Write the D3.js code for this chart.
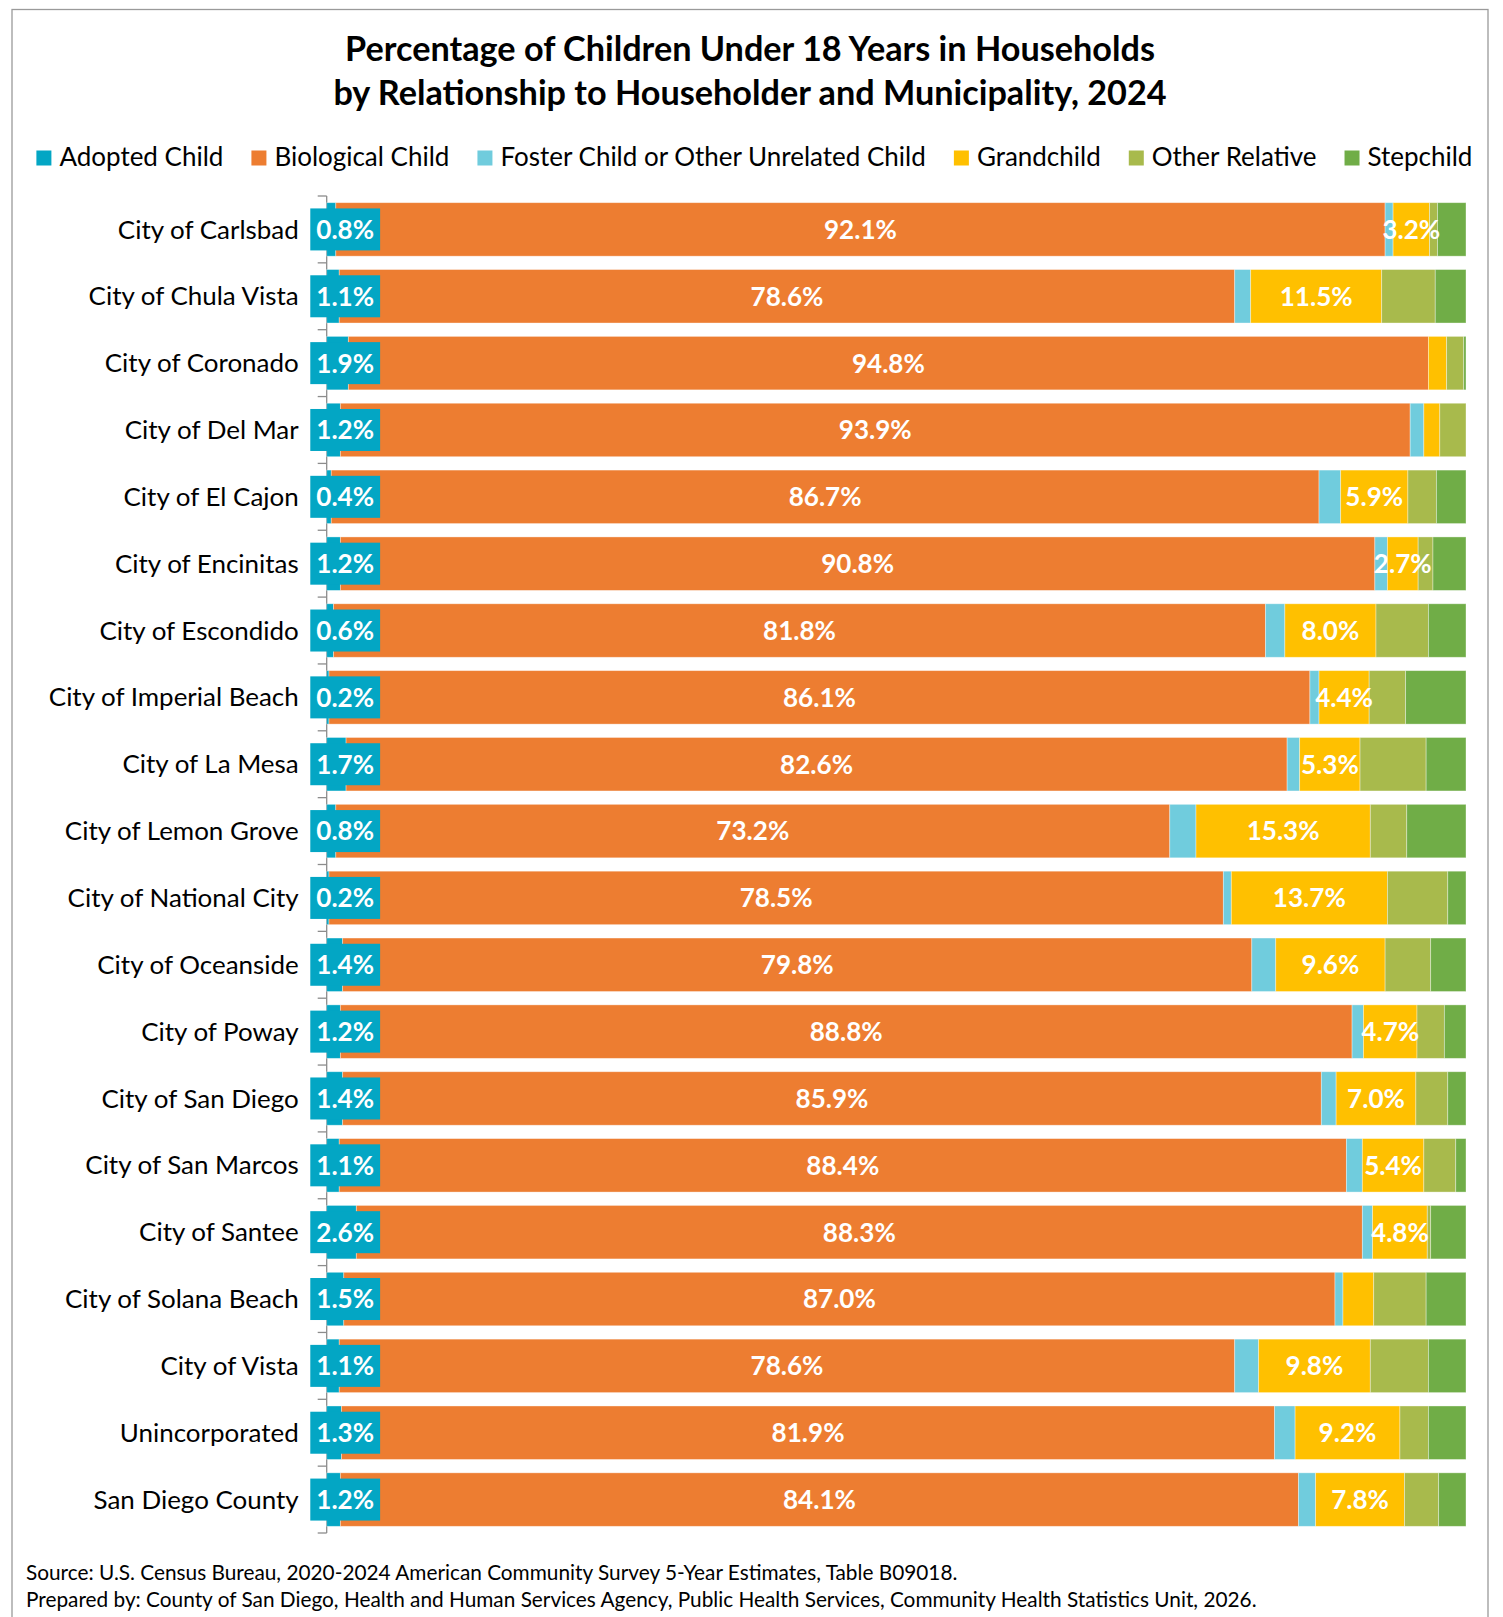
<!DOCTYPE html>
<html>
<head>
<meta charset="utf-8">
<script src="https://cdn.jsdelivr.net/npm/d3@7"></script>
<style>
  body { margin: 0; background: #fff; }
  svg { display: block; }
  text { font-family: Lato, "Open Sans", "Noto Sans", sans-serif; }
</style>
</head>
<body>
<svg id="chart" width="1503" height="1617"></svg>
<script>
// Share (%) of children under 18 in households, by relationship to householder
const municipalities = [
  "City of Carlsbad", "City of Chula Vista", "City of Coronado", "City of Del Mar",
  "City of El Cajon", "City of Encinitas", "City of Escondido", "City of Imperial Beach",
  "City of La Mesa", "City of Lemon Grove", "City of National City", "City of Oceanside",
  "City of Poway", "City of San Diego", "City of San Marcos", "City of Santee",
  "City of Solana Beach", "City of Vista", "Unincorporated", "San Diego County"
];
const adopted       = [0.8, 1.1, 1.9, 1.2, 0.4, 1.2, 0.6, 0.2, 1.7, 0.8, 0.2, 1.4, 1.2, 1.4, 1.1, 2.6, 1.5, 1.1, 1.3, 1.2];
const biological    = [92.1, 78.6, 94.8, 93.9, 86.7, 90.8, 81.8, 86.1, 82.6, 73.2, 78.5, 79.8, 88.8, 85.9, 88.4, 88.3, 87.0, 78.6, 81.9, 84.1];
const foster        = [0.7, 1.4, 0.0, 1.2, 1.9, 1.1, 1.7, 0.8, 1.1, 2.3, 0.7, 2.1, 1.0, 1.3, 1.4, 0.9, 0.7, 2.1, 1.8, 1.5];
const grandchild    = [3.2, 11.5, 1.6, 1.4, 5.9, 2.7, 8.0, 4.4, 5.3, 15.3, 13.7, 9.6, 4.7, 7.0, 5.4, 4.8, 2.7, 9.8, 9.2, 7.8];
const otherRelative = [0.7, 4.7, 1.5, 2.3, 2.5, 1.3, 4.6, 3.2, 5.8, 3.2, 5.3, 4.0, 2.4, 2.8, 2.8, 0.3, 4.6, 5.1, 2.5, 3.0];
const stepchild     = [2.5, 2.7, 0.2, 0.0, 2.6, 2.9, 3.3, 5.3, 3.5, 5.2, 1.6, 3.1, 1.9, 1.6, 0.9, 3.1, 3.5, 3.3, 3.3, 2.4];

const seriesNames  = ["Adopted Child", "Biological Child", "Foster Child or Other Unrelated Child",
                      "Grandchild", "Other Relative", "Stepchild"];
const seriesColors = ["#03A6C4", "#ED7D31", "#70CCDD", "#FFC000", "#A8BA4C", "#70AD47"];
// Grandchild values left without a data label
const unlabeledGrandchild = ["City of Coronado", "City of Del Mar", "City of Solana Beach"];

const titleLines = [
  "Percentage of Children Under 18 Years in Households",
  "by Relationship to Householder and Municipality, 2024"
];
const footnotes = [
  "Source: U.S. Census Bureau, 2020-2024 American Community Survey 5-Year Estimates, Table B09018.",
  "Prepared by: County of San Diego, Health and Human Services Agency, Public Health Services, Community Health Statistics Unit, 2026."
];

const seriesValues = [adopted, biological, foster, grandchild, otherRelative, stepchild];
const table = municipalities.map((m, i) => {
  const row = { name: m };
  seriesNames.forEach((s, k) => { row[s] = seriesValues[k][i]; });
  return row;
});

const svg = d3.select("#chart");
const fmt = v => v.toFixed(1) + "%";

// font size that makes a string reach a given width
function fitSize(str, width, weight) {
  const t = svg.append("text").attr("font-size", 100).attr("font-weight", weight).text(str);
  const w = t.node().getComputedTextLength();
  t.remove();
  return 100 * width / w;
}

// outer frame
svg.append("rect")
  .attr("x", 12).attr("y", 9.5).attr("width", 1476).attr("height", 1640)
  .attr("fill", "none").attr("stroke", "#9a9a9a").attr("stroke-width", 1.3);

// title
const titleSize = fitSize(titleLines[0], 810, 700);
svg.append("g").selectAll("text").data(titleLines).join("text")
  .attr("x", 750).attr("y", (d, i) => 61 + i * 44)
  .attr("text-anchor", "middle").attr("font-weight", 700)
  .attr("font-size", titleSize).attr("fill", "#000")
  .text(d => d);

// scales
const x = d3.scaleLinear().domain([0, 100]).range([326.7, 1466]);
const y = d3.scaleBand().domain(municipalities).range([196, 1533])
  .paddingInner(0.2).paddingOuter(0.1);

// legend: one row spread between the two outer edges
const legendSize = fitSize("Adopted Child", 164, 400);
const legendLeft = 36.4, legendRight = 1472.4;
const legendItems = svg.append("g").selectAll("g").data(seriesNames).join("g");
legendItems.append("rect").attr("x", 0).attr("y", 150.5).attr("width", 15).attr("height", 15)
  .attr("fill", (d, k) => seriesColors[k]);
legendItems.append("text").attr("x", 23).attr("y", 165.5)
  .attr("font-size", legendSize).attr("fill", "#000").text(d => d);
const itemWidths = legendItems.nodes().map(n => 23 + n.querySelector("text").getComputedTextLength());
const legendGap = (legendRight - legendLeft - d3.sum(itemWidths)) / (seriesNames.length - 1);
let lx = legendLeft;
legendItems.each(function (d, k) {
  d3.select(this).attr("transform", `translate(${lx},0)`);
  lx += itemWidths[k] + legendGap;
});

// category axis: line with ticks at band boundaries
const axisG = svg.append("g");
const step = y.step();
const y0 = 196;
axisG.append("line")
  .attr("x1", x(0)).attr("x2", x(0)).attr("y1", y0).attr("y2", y0 + step * municipalities.length)
  .attr("stroke", "#8c8c8c").attr("stroke-width", 1.3);
axisG.selectAll("line.tick").data(d3.range(municipalities.length + 1)).join("line")
  .attr("class", "tick")
  .attr("x1", x(0) - 9).attr("x2", x(0))
  .attr("y1", i => y0 + i * step).attr("y2", i => y0 + i * step)
  .attr("stroke", "#8c8c8c").attr("stroke-width", 1.3);

const catSize = fitSize("City of Carlsbad", 181, 400);
axisG.selectAll("text").data(municipalities).join("text")
  .attr("x", x(0) - 28).attr("y", d => y(d) + y.bandwidth() / 2)
  .attr("dy", "0.35em").attr("text-anchor", "end")
  .attr("font-size", catSize).attr("fill", "#000")
  .text(d => d);

// stacked bars
const stacked = d3.stack().keys(seriesNames)(table);
const layers = svg.append("g").selectAll("g").data(stacked).join("g")
  .attr("fill", (d, k) => seriesColors[k]);
layers.selectAll("rect").data(d => d).join("rect")
  .attr("x", d => x(d[0]))
  .attr("y", d => y(d.data.name))
  .attr("width", d => Math.max(0, x(d[1]) - x(d[0])))
  .attr("height", y.bandwidth())
  .attr("stroke", "rgba(255,255,255,0.45)")
  .attr("stroke-width", 0.8);

// data labels
const valueSize = fitSize("92.1%", 73, 700);
const labels = svg.append("g").attr("font-weight", 700).attr("font-size", valueSize);

// adopted child: boxed labels near the axis
stacked[0].forEach(d => {
  const cy = y(d.data.name) + y.bandwidth() / 2;
  const cx = x(0) + 18.5;
  const t = labels.append("text")
    .attr("x", cx).attr("y", cy).attr("dy", "0.36em")
    .attr("text-anchor", "middle").attr("fill", "#fff")
    .text(fmt(d.data["Adopted Child"]));
  const w = t.node().getComputedTextLength() + 12;
  labels.insert("rect", () => t.node())
    .attr("x", cx - w / 2).attr("y", cy - 21)
    .attr("width", w).attr("height", 42)
    .attr("fill", seriesColors[0]);
});

// biological child labels
labels.append("g").selectAll("text").data(stacked[1]).join("text")
  .attr("x", d => (x(d[0]) + x(d[1])) / 2)
  .attr("y", d => y(d.data.name) + y.bandwidth() / 2)
  .attr("dy", "0.36em").attr("text-anchor", "middle").attr("fill", "#fff")
  .text(d => fmt(d.data["Biological Child"]));

// grandchild labels
labels.append("g").selectAll("text")
  .data(stacked[3].filter(d => !unlabeledGrandchild.includes(d.data.name)))
  .join("text")
  .attr("x", d => (x(d[0]) + x(d[1])) / 2)
  .attr("y", d => y(d.data.name) + y.bandwidth() / 2)
  .attr("dy", "0.36em").attr("text-anchor", "middle").attr("fill", "#fff")
  .text(d => fmt(d.data["Grandchild"]));

// footnotes
const noteSize = fitSize(footnotes[0], 932, 400);
svg.append("g").selectAll("text").data(footnotes).join("text")
  .attr("x", 26).attr("y", (d, i) => 1580 + i * 27)
  .attr("font-size", noteSize).attr("fill", "#000")
  .text(d => d);
</script>
</body>
</html>
